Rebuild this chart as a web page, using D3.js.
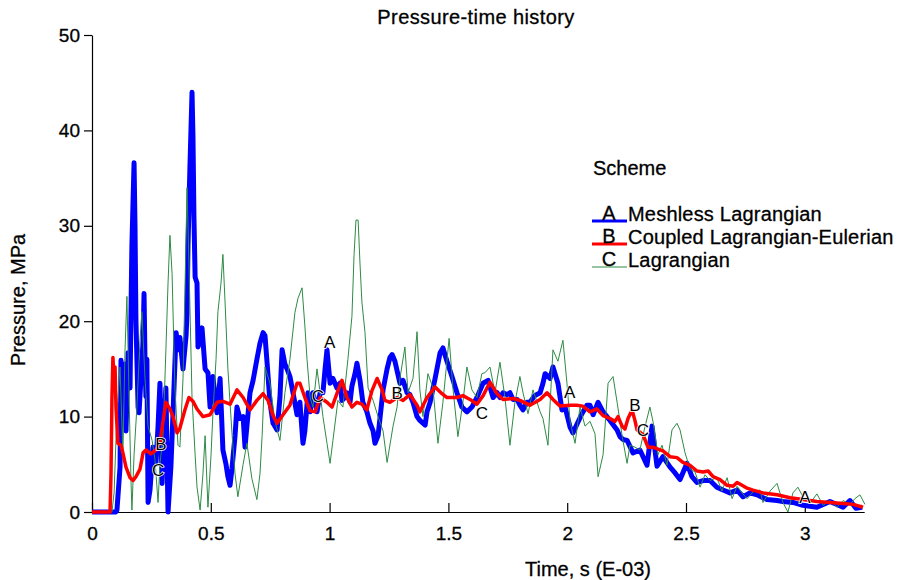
<!DOCTYPE html>
<html>
<head>
<meta charset="utf-8">
<script src="https://cdn.jsdelivr.net/npm/d3@7"></script>
<style>
  body { margin: 0; background: #fff; }
  text { font-family: "Liberation Sans", Arial, sans-serif; }
</style>
</head>
<body>
<svg id="chart" width="898" height="580"></svg>
<script>
// Pressure (MPa) vs time (E-03 s)
const meshless = [
  [0,0],[0.100,0],[0.105,0.2],[0.118,4.7],[0.122,15.9],[0.130,13],[0.139,15.5],[0.143,8.5],[0.152,16.7],[0.160,13],
  [0.164,20.9],[0.168,28],[0.177,36.6],[0.181,30],[0.185,20],[0.189,16],[0.194,11],[0.198,10.4],[0.206,14],[0.215,18],
  [0.219,22.9],[0.223,16],[0.227,12.1],[0.231,16],[0.236,1.0],[0.244,2.3],[0.257,6.8],[0.269,5.0],[0.278,9],[0.286,13.5],
  [0.295,3.0],[0.299,7],[0.311,13],[0.320,0],[0.332,4.7],[0.341,10.4],[0.354,18.8],[0.362,17],[0.370,18.3],[0.383,15],
  [0.396,18.5],[0.400,20.9],[0.404,27.8],[0.412,36],[0.421,44.0],[0.425,39.3],[0.429,31],[0.434,24.6],[0.442,24],[0.446,17.3],
  [0.455,18],[0.463,19.3],[0.476,15],[0.488,14.6],[0.497,11],[0.509,14.2],[0.518,12],[0.526,10.4],[0.539,14],[0.551,6.5],
  [0.564,5],[0.572,3.7],[0.581,2.8],[0.589,4.5],[0.602,8],[0.610,11.0],[0.623,9.8],[0.636,10],[0.644,6.8],[0.652,9],
  [0.665,12.5],[0.678,13.8],[0.694,16],[0.707,17.7],[0.720,18.8],[0.728,18.5],[0.737,15.6],[0.749,11.5],[0.762,9.3],[0.779,8.6],
  [0.791,12],[0.800,17.0],[0.812,15.5],[0.821,15],[0.833,14.2],[0.846,12.5],[0.863,10.2],[0.875,11.5],[0.888,7.2],[0.896,8.5],
  [0.909,12.5],[0.918,10.5],[0.930,12.5],[0.939,11.5],[0.947,10.5],[0.960,12.5],[0.972,12.5],[0.981,15],[0.989,17.0],[1.002,13.5],
  [1.014,14],[1.031,13],[1.044,13.5],[1.052,11.7],[1.065,12],[1.073,12.5],[1.086,11.5],[1.094,13.2],[1.107,14.5],[1.115,15.6],
  [1.128,13.8],[1.140,11.5],[1.157,10.5],[1.170,9.3],[1.183,8.5],[1.191,7.2],[1.204,8],[1.212,9.8],[1.225,12.8],[1.242,15],
  [1.254,16.2],[1.263,16.5],[1.275,15.8],[1.284,14.8],[1.296,13.5],[1.309,13.8],[1.326,12.5],[1.338,12.3],[1.351,11.5],[1.368,10],
  [1.380,9.6],[1.393,9.3],[1.402,9.1],[1.410,10.5],[1.423,11.5],[1.444,14],[1.465,16.7],[1.477,17.2],[1.494,15.8],[1.515,14.2],
  [1.536,12.5],[1.557,11.0],[1.578,10.5],[1.599,11.0],[1.620,12.0],[1.646,13.5],[1.667,13.8],[1.688,12.0],[1.705,12.5],[1.717,12.0],
  [1.730,12.5],[1.747,12.3],[1.759,12.5],[1.772,11.8],[1.789,11.8],[1.801,11.2],[1.814,10.7],[1.831,11.5],[1.843,11.5],[1.864,12.2],
  [1.886,12.5],[1.898,13.5],[1.907,14.5],[1.928,14.0],[1.940,15.2],[1.961,13.5],[1.978,10.7],[1.991,11.0],[2.003,9.8],[2.012,8.9],
  [2.024,8.3],[2.041,9.2],[2.062,10.3],[2.083,11.2],[2.096,11.2],[2.109,10.2],[2.130,11.5],[2.151,10.5],[2.180,9.6],[2.210,8.6],
  [2.222,7.9],[2.235,7.6],[2.252,7.5],[2.277,6.2],[2.306,6.5],[2.336,4.9],[2.357,9.0],[2.378,4.8],[2.403,5.8],[2.433,4.7],
  [2.454,4.1],[2.475,3.4],[2.504,5.1],[2.525,3.7],[2.546,3.1],[2.572,3.3],[2.601,3.3],[2.630,2.6],[2.656,2.3],[2.685,2.0],
  [2.715,2.3],[2.740,1.6],[2.769,2.0],[2.799,1.8],[2.841,1.3],[2.883,1.2],[2.908,1.1],[2.950,1.0],[2.992,0.7],[3.051,0.5],
  [3.106,1.1],[3.161,0.5],[3.190,1.2],[3.215,0.4],[3.241,0.5]
];

const coupled = [
  [0,0],[0.076,0],[0.080,4],[0.084,12],[0.088,16.2],[0.093,14],[0.097,15.2],[0.101,11],[0.109,7.2],[0.122,7.0],
  [0.130,6.2],[0.143,4.7],[0.160,3.6],[0.173,3.3],[0.185,3.7],[0.202,4.5],[0.215,6.2],[0.227,6.5],[0.248,6.1],[0.269,6.5],
  [0.286,7.3],[0.299,9.5],[0.311,11.5],[0.328,10.8],[0.341,10],[0.358,8.3],[0.370,8.8],[0.391,10.7],[0.408,12],[0.425,11.6],
  [0.442,10.8],[0.467,10.0],[0.497,10.2],[0.526,11.5],[0.551,11.6],[0.581,11.3],[0.610,12.8],[0.636,12.0],[0.665,10.7],[0.694,11.7],
  [0.720,12.4],[0.741,11.7],[0.762,10.1],[0.779,9.3],[0.804,10.2],[0.833,11.2],[0.863,13.5],[0.875,13.5],[0.896,12.0],[0.918,10.6],
  [0.939,10.5],[0.960,12.0],[0.989,11.5],[1.010,11.0],[1.035,12.7],[1.052,13.8],[1.073,12.0],[1.094,11.0],[1.115,11.5],[1.136,11.3],
  [1.157,10.7],[1.178,12.7],[1.200,14.0],[1.221,12.8],[1.233,11.7],[1.254,11.5],[1.284,12.0],[1.309,11.7],[1.338,12.3],[1.368,11.2],
  [1.380,10.5],[1.410,12.0],[1.444,13.1],[1.473,12.4],[1.494,12.0],[1.536,12.0],[1.561,12.2],[1.591,11.8],[1.620,11.3],[1.646,12.2],
  [1.675,13.6],[1.705,12.4],[1.730,11.8],[1.772,11.9],[1.801,11.7],[1.843,11.2],[1.886,11.8],[1.915,12.5],[1.940,11.8],[1.970,11.1],
  [2.012,11.2],[2.041,11.2],[2.066,11.1],[2.096,10.5],[2.125,10.8],[2.151,10.1],[2.180,9.8],[2.201,9.5],[2.214,10.0],[2.231,9.0],
  [2.243,8.7],[2.256,9.8],[2.273,10.7],[2.285,9.6],[2.294,8.6],[2.319,8.1],[2.340,6.8],[2.361,6.8],[2.382,6.6],[2.403,6.4],
  [2.433,5.8],[2.462,5.7],[2.487,5.2],[2.517,4.9],[2.546,4.3],[2.572,4.2],[2.593,4.3],[2.614,3.7],[2.643,3.4],[2.673,2.8],
  [2.698,2.7],[2.715,3.1],[2.736,2.8],[2.757,2.5],[2.782,2.3],[2.824,2.0],[2.883,1.8],[2.938,1.5],[2.992,1.3],[3.051,1.1],
  [3.106,1.0],[3.161,0.9],[3.203,0.8],[3.245,0.5]
];

const lagrangian = [
  [0,0],[0.084,0],[0.093,2],[0.105,10.4],[0.118,15.2],[0.130,6],[0.139,17],[0.147,22.6],[0.156,12],[0.164,3.4],
  [0.168,0.2],[0.177,6],[0.189,11],[0.202,18],[0.210,21],[0.223,14],[0.236,9],[0.253,7.5],[0.265,5.5],[0.278,1.0],
  [0.286,5],[0.299,8],[0.311,17],[0.320,24],[0.328,29.0],[0.337,25],[0.349,13],[0.362,7],[0.370,6.8],[0.383,14],
  [0.391,23],[0.400,34.0],[0.408,26],[0.421,12],[0.434,6],[0.442,2.6],[0.455,0.2],[0.467,4],[0.476,8],[0.488,0.5],
  [0.501,6],[0.509,10.4],[0.522,16],[0.530,21],[0.543,24],[0.551,27.0],[0.560,22],[0.572,15],[0.589,8.3],[0.602,4],
  [0.614,1.6],[0.636,5],[0.652,7.2],[0.673,3.5],[0.694,1.3],[0.707,4],[0.716,8],[0.728,15.2],[0.749,13.5],[0.770,9.5],
  [0.791,7.5],[0.812,12.5],[0.833,16],[0.854,20.9],[0.867,22.4],[0.884,23.5],[0.896,19.5],[0.905,16],[0.918,12],[0.930,11],
  [0.947,15],[0.960,12.5],[0.972,10],[0.989,7.2],[1.002,5.1],[1.014,7.5],[1.035,11.7],[1.056,11],[1.077,16],[1.094,20.5],
  [1.103,27],[1.111,30.6],[1.120,30.6],[1.128,26],[1.136,22],[1.149,18.8],[1.162,13],[1.183,11.7],[1.204,10],[1.225,8.5],
  [1.242,5.2],[1.267,9],[1.284,11],[1.296,14],[1.317,17.3],[1.330,12.5],[1.351,14],[1.368,18.9],[1.380,12.8],[1.393,10],
  [1.414,14.5],[1.435,13],[1.456,7.2],[1.477,11.5],[1.503,18.2],[1.519,13],[1.540,7.9],[1.561,11.5],[1.578,15.2],[1.599,12.8],
  [1.620,12],[1.641,14.5],[1.654,14.6],[1.675,15.2],[1.696,12.5],[1.717,15.7],[1.738,12],[1.759,7],[1.780,11.5],[1.801,14.2],
  [1.814,12.5],[1.835,10.3],[1.856,12.8],[1.886,10.5],[1.898,9.8],[1.919,7.0],[1.940,17.0],[1.961,15.8],[1.982,18.0],[1.999,13.5],
  [2.012,9.5],[2.033,7.2],[2.054,11],[2.075,9],[2.096,9.5],[2.117,8.2],[2.130,3.7],[2.151,6],[2.172,13.5],[2.193,14.2],
  [2.210,11.5],[2.231,8],[2.252,5.1],[2.264,7],[2.285,6.8],[2.306,6.5],[2.327,8.9],[2.348,11.0],[2.361,9.5],[2.382,6.0],
  [2.399,7],[2.420,4.9],[2.441,8.6],[2.462,9.3],[2.475,8.6],[2.496,6.2],[2.517,4.5],[2.538,4.2],[2.559,2.6],[2.580,3.9],
  [2.601,3.3],[2.630,3.6],[2.651,2.2],[2.673,3.6],[2.694,1.4],[2.715,2.7],[2.736,2.0],[2.757,1.4],[2.782,2.1],[2.811,2.3],
  [2.824,1.0],[2.854,2.2],[2.883,3.0],[2.908,1.0],[2.929,0.0],[2.950,2.0],[2.971,2.6],[2.992,1.6],[3.022,0.9],[3.051,1.9],
  [3.077,0.7],[3.106,1.2],[3.136,0.5],[3.161,1.2],[3.190,0.8],[3.211,1.4],[3.232,1.8],[3.253,0.8]
];

// curve letters placed along the traces
const letterText = ["B", "C", "C", "A", "B", "C", "A", "B", "C", "A"];
const letterTime = [0.29, 0.278, 0.951, 1.0, 1.284, 1.641, 2.01, 2.285, 2.319, 3.0];
const letterPress = [7.1, 4.4, 12.2, 17.8, 12.5, 10.4, 12.6, 11.2, 8.6, 1.6];

const seriesNames = ["Meshless Lagrangian", "Coupled Lagrangian-Eulerian", "Lagrangian"];
const seriesLetters = ["A", "B", "C"];
const seriesColors = ["#0000ff", "#ff0000", "#2e8b45"];
const seriesWidths = [5, 3.5, 1];

const xTicks = [0, 0.5, 1, 1.5, 2, 2.5, 3];
const yTicks = [0, 10, 20, 30, 40, 50];

const svg = d3.select("#chart");
const fontFam = "'Liberation Sans', Arial, sans-serif";

const x = d3.scaleLinear().domain([0, 3.25]).range([92, 864.2]);
const y = d3.scaleLinear().domain([0, 50]).range([512, 35]);

// axes
const xAxis = svg.append("g")
  .attr("transform", "translate(0,512)")
  .call(d3.axisBottom(x).tickValues(xTicks).tickSize(-9).tickSizeOuter(0)
    .tickPadding(15).tickFormat(d3.format("~g")));

const yAxis = svg.append("g")
  .attr("transform", "translate(92,0)")
  .call(d3.axisLeft(y).tickValues(yTicks).tickSize(8).tickSizeOuter(0).tickPadding(4));

[xAxis, yAxis].forEach(g => {
  g.attr("font-size", 19).attr("font-family", fontFam);
  g.selectAll("path, line").attr("stroke", "#000").attr("stroke-width", 1.2);
  g.selectAll("text").attr("fill", "#000").attr("stroke", "#000").attr("stroke-width", 0.3);
});

// the three traces: blue, green, then red on top
const line = d3.line().x(d => x(d[0])).y(d => y(d[1]));
const drawOrder = [0, 2, 1];
const seriesData = [meshless, coupled, lagrangian];

drawOrder.forEach(i => {
  svg.append("path")
    .datum(seriesData[i])
    .attr("d", line)
    .attr("fill", "none")
    .attr("stroke", seriesColors[i])
    .attr("stroke-width", seriesWidths[i])
    .attr("stroke-linejoin", "round");
});

// letters on the curves
svg.append("g")
  .selectAll("text")
  .data(d3.range(letterText.length))
  .enter()
  .append("text")
    .attr("x", i => x(letterTime[i]))
    .attr("y", i => y(letterPress[i]))
    .attr("dy", "0.36em")
    .attr("text-anchor", "middle")
    .attr("font-size", 17)
    .attr("fill", "#000")
    .attr("stroke", "#fff")
    .attr("stroke-width", 1.5)
    .attr("paint-order", "stroke")
    .text(i => letterText[i]);

// titles
function heading(sel) {
  return sel.attr("font-size", 20).attr("fill", "#000")
    .attr("stroke", "#000").attr("stroke-width", 0.3);
}

heading(svg.append("text"))
  .attr("x", 476).attr("y", 24)
  .attr("text-anchor", "middle")
  .attr("letter-spacing", 0.4)
  .text("Pressure-time history");

heading(svg.append("text"))
  .attr("transform", "translate(25,300) rotate(-90)")
  .attr("text-anchor", "middle")
  .text("Pressure, MPa");

heading(svg.append("text"))
  .attr("x", 588).attr("y", 576)
  .attr("text-anchor", "middle")
  .text("Time, s (E-03)");

// legend
const legend = svg.append("g").attr("transform", "translate(592,0)");

heading(legend.append("text"))
  .attr("x", 1).attr("y", 175)
  .text("Scheme");

const rows = legend.selectAll("g.row")
  .data(seriesNames)
  .enter()
  .append("g")
    .attr("class", "row")
    .attr("transform", (d, i) => `translate(0,${221 + i * 23})`);

rows.append("line")
  .attr("x1", 0).attr("x2", 35)
  .attr("y1", 0).attr("y2", 0)
  .attr("stroke", (d, i) => seriesColors[i])
  .attr("stroke-width", (d, i) => Math.min(seriesWidths[i], 3));

heading(rows.append("text"))
  .attr("x", 17).attr("y", -1)
  .attr("text-anchor", "middle")
  .text((d, i) => seriesLetters[i]);

heading(rows.append("text"))
  .attr("x", 36).attr("y", 0)
  .attr("letter-spacing", 0.2)
  .text(d => d);
</script>
</body>
</html>
